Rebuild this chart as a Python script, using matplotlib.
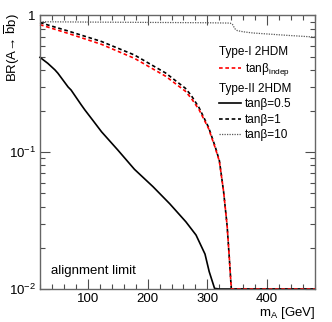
import numpy as np
import matplotlib
matplotlib.use("Agg")
import matplotlib.pyplot as plt
from matplotlib.lines import Line2D
from matplotlib.ticker import MultipleLocator, LogLocator, NullFormatter

# BR(A -> bb) vs m_A in the alignment limit

plt.rcParams['font.family'] = ['Liberation Sans', 'DejaVu Sans']
plt.rcParams['mathtext.fontset'] = 'custom'
plt.rcParams['mathtext.rm'] = 'Liberation Sans'
plt.rcParams['mathtext.it'] = 'Liberation Sans:italic'
plt.rcParams['mathtext.bf'] = 'Liberation Sans:bold'

YMIN, YMAX = 1e-2, 1.0
XMIN, XMAX = 20, 480

# type-II, tanb = 0.5
m_tb05  = [20, 33, 45, 50, 67, 72, 89, 95, 108, 123, 150, 178, 209, 237, 264,
           281, 296, 303, 312, 320, 345, 480]
br_tb05 = [0.494, 0.447, 0.40, 0.378, 0.30, 0.285, 0.222, 0.204, 0.172, 0.141,
           0.104, 0.075, 0.056, 0.042, 0.031, 0.0248, 0.018, 0.0134, 0.0101,
           0.006, 0.0001, 0.0001]

# type-II, tanb = 1
m_tb1  = [20, 67, 123, 178, 230, 263, 273, 286, 302, 313, 320, 327, 333, 337,
          340, 345, 480]
br_tb1 = [0.887, 0.77, 0.645, 0.514, 0.38, 0.294, 0.26, 0.212, 0.152, 0.11,
          0.087, 0.052, 0.029, 0.016, 0.01, 0.0001, 0.0001]

# type-I, any tanb
m_indep  = [20, 67, 123, 178, 230, 263, 273, 286, 302, 313, 320, 327, 333, 337,
            340, 345, 480]
br_indep = [0.857, 0.74, 0.615, 0.486, 0.36, 0.28, 0.248, 0.205, 0.149, 0.108,
            0.086, 0.052, 0.029, 0.016, 0.01, 0.0001, 0.0001]

# type-II, tanb = 10
m_tb10  = [20, 100, 200, 300, 338, 342, 346, 350, 360, 376, 431, 480]
br_tb10 = [0.90, 0.895, 0.89, 0.885, 0.88, 0.86, 0.80, 0.775, 0.76, 0.745,
           0.717, 0.695]

yticks      = [1e-2, 1e-1, 1.0]
ytick_names = [r'$10^{-2}$', r'$10^{-1}$', '1']
xticks      = [100, 200, 300, 400]

fig = plt.figure(figsize=(3.32, 3.22), dpi=100)
ax = fig.add_axes([0.1205, 0.1025, 0.8283, 0.8494])

def floor(v):
    # ROOT-style: graph pinned to the frame when it falls below it
    return np.clip(np.array(v), YMIN, None)

dash = (0, (2.2, 1.6))
ax.plot(m_tb10, floor(br_tb10), color='0.35', lw=0.9, ls=(0, (1, 1)), clip_on=False)
ax.plot(m_tb05, floor(br_tb05), color='black', lw=1.2, clip_on=False)
ax.plot(m_tb1, floor(br_tb1), color='black', lw=1.2, ls=dash, clip_on=False)
ax.plot(m_indep, floor(br_indep), color='red', lw=1.2, ls=dash, clip_on=False)

ax.set_yscale('log')
ax.set_xlim(XMIN, XMAX)
ax.set_ylim(YMIN, YMAX)
ax.set_xticks(xticks)
ax.set_yticks(yticks)
ax.set_yticklabels(ytick_names)
ax.xaxis.set_minor_locator(MultipleLocator(20))
ax.yaxis.set_minor_locator(LogLocator(base=10, subs=np.arange(2, 10)))
ax.yaxis.set_minor_formatter(NullFormatter())
ax.tick_params(which='both', direction='in', top=True, right=True,
               color='0.3', labelsize=9.5, pad=3)
ax.tick_params(which='major', length=7, width=0.8)
ax.tick_params(which='minor', length=3.5, width=0.8)
for s in ax.spines.values():
    s.set_color('0.4')
    s.set_linewidth(1.0)

ax.set_xlabel(r'$\mathrm{m_{A}}$ [GeV]', fontsize=9.5, loc='right', labelpad=0)
ax.set_ylabel('BR(A\u2192 $\\overline{\\mathrm{b}}$b)', fontsize=9.5, loc='top')
ax.yaxis.label.set_va('center')
ax.yaxis.set_label_coords(-0.1, 1.009)

ax.text(0.04, 0.055, 'alignment limit', transform=ax.transAxes, fontsize=9.5)

# legends
leg_kw = dict(loc='upper left', alignment='left', fontsize=8.5,
              title_fontsize=8.5, frameon=False, handlelength=1.9,
              handletextpad=0.3, borderpad=0.2, labelspacing=0.3)
h_indep = Line2D([], [], color='red', lw=1.2, ls=dash)
leg1 = ax.legend([h_indep], [r'$\mathrm{tan\beta_{indep}}$'], title='Type-I 2HDM',
                 bbox_to_anchor=(0.62, 0.92), **leg_kw)
ax.add_artist(leg1)
h_05 = Line2D([], [], color='black', lw=1.2)
h_1 = Line2D([], [], color='black', lw=1.2, ls=dash)
h_10 = Line2D([], [], color='0.35', lw=0.9, ls=(0, (1, 1)))
ax.legend([h_05, h_1, h_10], ['tan\u03b2=0.5', 'tan\u03b2=1', 'tan\u03b2=10'],
          title='Type-II 2HDM', bbox_to_anchor=(0.62, 0.785), **leg_kw)

fig.savefig('out.png', dpi=100)
